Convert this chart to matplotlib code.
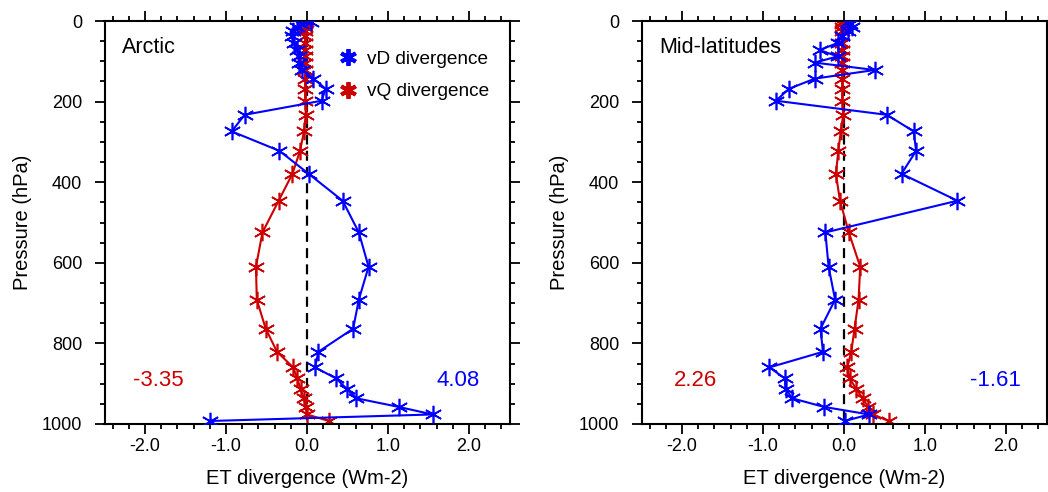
import matplotlib
matplotlib.use("Agg")
import matplotlib.pyplot as plt
from matplotlib.lines import Line2D
from matplotlib.ticker import MultipleLocator

plt.rcParams['font.family'] = ['Liberation Sans', 'DejaVu Sans']

# CAM L30 mid-levels (hPa)
lev = [3.64, 7.59, 14.36, 24.61, 38.27, 54.6, 72.01, 87.82, 103.32, 121.55,
       142.99, 168.23, 197.91, 232.83, 273.91, 322.24, 379.1, 445.99, 524.69,
       609.78, 691.39, 763.4, 820.86, 859.53, 887.02, 912.64, 936.2, 957.49,
       976.33, 992.56]

arctic_vD = [0.05, -0.08, -0.12, -0.17, -0.19, -0.16, -0.12, -0.10, -0.10, -0.06,
             0.08, 0.23, 0.18, -0.77, -0.93, -0.34, 0.02, 0.44, 0.64, 0.76,
             0.64, 0.57, 0.14, 0.10, 0.36, 0.49, 0.61, 1.13, 1.55, -1.20]
arctic_vQ = [-0.01, -0.02, -0.02, -0.02, -0.02, -0.02, -0.02, -0.02, -0.02, -0.02,
             -0.02, -0.02, -0.02, -0.016, -0.037, -0.086, -0.18, -0.35, -0.55, -0.63,
             -0.62, -0.51, -0.37, -0.17, -0.12, -0.08, -0.04, -0.015, 0.0, 0.27]

mid_vD = [0.05, 0.08, 0.10, 0.05, -0.02, -0.08, -0.30, -0.08, -0.36, 0.38,
          -0.36, -0.68, -0.84, 0.53, 0.86, 0.89, 0.71, 1.40, -0.23, -0.19,
          -0.11, -0.29, -0.26, -0.92, -0.73, -0.72, -0.64, -0.25, 0.31, 0.01]
mid_vQ = [-0.02, -0.02, -0.02, -0.02, -0.02, -0.02, -0.02, -0.02, -0.02, -0.02,
          -0.02, -0.02, -0.02, -0.01, -0.04, -0.07, -0.10, -0.05, 0.06, 0.20,
          0.18, 0.13, 0.09, 0.04, 0.07, 0.15, 0.23, 0.30, 0.36, 0.55]

panels = ["Arctic", "Mid-latitudes"]
totals_vQ = ["-3.35", "2.26"]
totals_vD = ["4.08", "-1.61"]
xticks = [-2.0, -1.0, 0.0, 1.0, 2.0]
xticklabels = ["-2.0", "-1.0", "0.0", "1.0", "2.0"]
yticks = [0, 200, 400, 600, 800, 1000]

BLUE = "#0000FF"
RED = "#CC0000"
star = (6, 2, 0)

W, H = 1048, 492
fig = plt.figure(figsize=(W / 100, H / 100), dpi=100)

axes_px = [(104.5, 21, 405, 403), (641.5, 21, 405, 403)]
data = [(arctic_vD, arctic_vQ), (mid_vD, mid_vQ)]

for i, (x0, y0, w, h) in enumerate(axes_px):
    ax = fig.add_axes([x0 / W, 1 - (y0 + h) / H, w / W, h / H])
    vD, vQ = data[i]
    ax.plot([0, 0], [0, 1000], color='black', lw=1.6, ls=(0, (4.5, 2.8)), zorder=1)
    ax.plot(vD, lev, color=BLUE, lw=1.5, marker=star, ms=12.5, mew=1.2, zorder=3)
    ax.plot(vQ, lev, color=RED, lw=1.5, marker=star, ms=12.5, mew=1.2, zorder=2)
    ax.set_xlim(-2.5, 2.5)
    ax.set_ylim(1000, 0)
    ax.set_xticks(xticks)
    ax.set_xticklabels(xticklabels)
    ax.xaxis.set_minor_locator(MultipleLocator(0.2))
    ax.set_yticks(yticks)
    ax.yaxis.set_minor_locator(MultipleLocator(50))
    ax.tick_params(which='both', direction='out', top=True, right=True,
                   labelsize=13, width=1.3)
    ax.tick_params(which='major', length=7)
    ax.tick_params(which='minor', length=3.5)
    ax.tick_params(axis='x', pad=3)
    ax.tick_params(axis='y', pad=9)
    for s in ax.spines.values():
        s.set_linewidth(1.5)
    ax.set_xlabel("ET divergence (Wm-2)", fontsize=14.5)
    ax.set_ylabel("Pressure (hPa)", fontsize=14.5)
    ax.xaxis.set_label_coords(0.5, -0.134)
    ax.xaxis.label.set_va('center')
    ax.yaxis.set_label_coords(-0.203, 0.5)
    ax.yaxis.label.set_va('center')
    ax.text(0.043, 0.935, panels[i], transform=ax.transAxes, fontsize=15.5,
            va='center', ha='left')
    ax.text(0.133, 0.107, totals_vQ[i], transform=ax.transAxes, fontsize=16,
            color=RED, ha='center', va='center')
    ax.text(0.873, 0.107, totals_vD[i], transform=ax.transAxes, fontsize=16,
            color=BLUE, ha='center', va='center')
    if i == 0:
        handles = [Line2D([], [], ls='none', marker=star, ms=12, mew=2.8, color=BLUE),
                   Line2D([], [], ls='none', marker=star, ms=12, mew=2.8, color=RED)]
        ax.legend(handles, ["vD divergence", "vQ divergence"], loc='upper left',
                  bbox_to_anchor=(0.558, 0.945), frameon=False, fontsize=13.7,
                  handlelength=1.0, handletextpad=0.5, labelspacing=0.78,
                  borderaxespad=0)

fig.savefig("out.png", dpi=100)
